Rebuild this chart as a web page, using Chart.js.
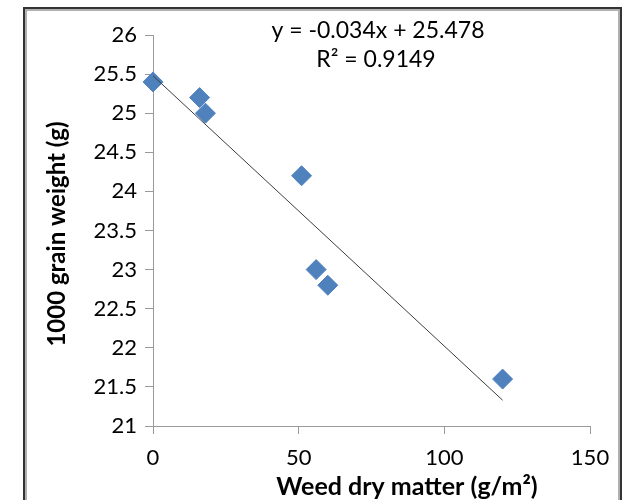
<!DOCTYPE html>
<html>
<head>
<meta charset="utf-8">
<script src="https://cdn.jsdelivr.net/npm/chart.js@4.4.1/dist/chart.umd.min.js"></script>
<style>
  html, body { margin: 0; padding: 0; background: #fff; }
  #wrap { position: relative; width: 633px; height: 500px; overflow: hidden; }
  #frame {
    position: absolute; left: 23px; top: 7px; width: 599px; height: 600px;
    box-sizing: border-box; border: 2px solid #333;
    box-shadow: inset 0 0 0 2px #b0b0b0; pointer-events: none;
  }
</style>
</head>
<body>
<div id="wrap">
  <canvas id="chart" width="633" height="500"></canvas>
  <div id="frame"></div>
</div>
<script>
// --- datos ---
const weedDryMatter = [0, 16, 18, 51, 56, 60, 120];
const grainWeight = [25.4, 25.2, 25.0, 24.2, 23.0, 22.8, 21.6];

// linea de tendencia (extremos)
const trendX = [0, 120];
const trendY = [25.478, 21.33];

const equationText = 'y = -0.034x + 25.478';
const r2Text = 'R\u00B2 = 0.9149';
const xTitle = 'Weed dry matter (g/m\u00B2)';
const yTitle = '1000 grain weight (g)';

const FONT = 'Lato, "Open Sans", sans-serif';
const AXIS_COLOR = '#9a9a9a';

const scatterPoints = weedDryMatter.map((x, i) => ({ x: x, y: grainWeight[i] }));
const trendPoints = trendX.map((x, i) => ({ x: x, y: trendY[i] }));

// textos: titulos de ejes y ecuacion
const labelsPlugin = {
    id: 'labels',
    afterDraw(chart) {
        const ctx = chart.ctx;
        ctx.save();
        ctx.fillStyle = '#000';
        ctx.textAlign = 'center';
        ctx.textBaseline = 'middle';

        ctx.font = '23px ' + FONT;
        ctx.fillText(equationText, 378, 31);
        ctx.fillText(r2Text, 376, 60);

        ctx.font = 'bold 25px ' + FONT;
        ctx.fillText(xTitle, 407, 487);

        ctx.font = 'bold 24px ' + FONT;
        ctx.translate(57, 234);
        ctx.rotate(-Math.PI / 2);
        ctx.fillText(yTitle, 0, 0);
        ctx.restore();
    }
};

const ctx = document.getElementById('chart').getContext('2d');
new Chart(ctx, {
    type: 'scatter',
    data: {
        datasets: [
            {
                type: 'line',
                label: 'Trend',
                data: trendPoints,
                borderColor: '#3c3c3c',
                borderWidth: 1,
                pointRadius: 0,
                fill: false,
                order: 0
            },
            {
                label: 'Data',
                data: scatterPoints,
                pointStyle: 'rectRot',
                pointRadius: 10,
                borderWidth: 1,
                backgroundColor: '#4F81BD',
                borderColor: '#4F81BD',
                clip: false,
                order: 1
            }
        ]
    },
    options: {
        responsive: false,
        animation: false,
        layout: { padding: { left: 0, top: 35, right: 43, bottom: 0 } },
        plugins: {
            legend: { display: false },
            tooltip: { enabled: false }
        },
        scales: {
            x: {
                type: 'linear',
                min: 0, max: 150,
                ticks: { stepSize: 50, color: '#000', font: { family: FONT, size: 22 }, padding: 11, maxRotation: 0 },
                grid: { drawOnChartArea: false, drawTicks: true, tickLength: 8, color: AXIS_COLOR },
                border: { display: true, color: AXIS_COLOR, width: 1 },
                afterFit(scale) { scale.height = 74; }
            },
            y: {
                min: 21, max: 26,
                ticks: {
                    stepSize: 0.5, color: '#000', font: { family: FONT, size: 22 }, padding: 8,
                    callback: (value) => String(value)
                },
                grid: { drawOnChartArea: false, drawTicks: true, tickLength: 8, color: AXIS_COLOR },
                border: { display: true, color: AXIS_COLOR, width: 1 },
                afterFit(scale) { scale.width = 153; }
            }
        }
    },
    plugins: [labelsPlugin]
});
</script>
</body>
</html>
